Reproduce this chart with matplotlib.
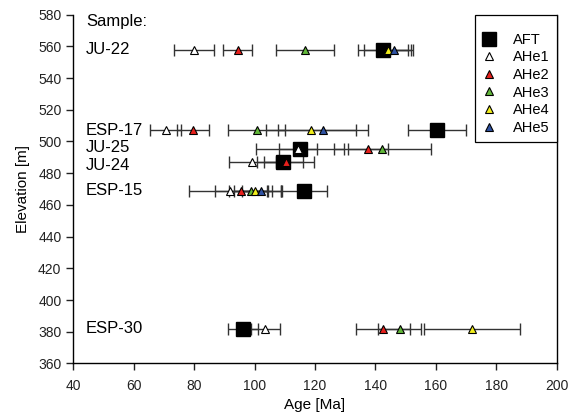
import matplotlib
matplotlib.use('Agg')
import numpy as np
import matplotlib.pyplot as plt
from matplotlib.lines import Line2D

nan = np.nan

# sample names and elevations [m]
samples = ['JU-22', 'ESP-17', 'JU-25', 'JU-24', 'ESP-15', 'ESP-30']
elev = [558, 507, 495, 487, 469, 382]
label_y = [558, 507, 496, 485, 469, 382]

# ages [Ma] and errors, one row per sample
aft_age = [142.6, 160.5, 115.1, 109.5, 116.5, 96.3]
aft_err = [8.2, 9.6, 14.5, 6.5, 7.4, 5.0]
ahe1_age = [80.0, 70.6, 114.5, 99.3, 92.0, 103.5]
ahe1_err = [6.6, 5.2, 6.3, 7.7, 13.8, 4.8]
ahe2_age = [94.4, 79.7, 137.5, 110.3, 95.5, 142.5]
ahe2_err = [4.9, 5.3, 6.6, 9.5, 8.6, 9.0]
ahe3_age = [116.7, 100.7, 142.3, nan, 98.8, 148.0]
ahe3_err = [9.6, 9.4, 16.1, nan, 5.5, 7.0]
ahe4_age = [144.3, 118.7, nan, nan, 100.0, 172.0]
ahe4_err = [8.0, 14.9, nan, nan, 8.6, 16.0]
ahe5_age = [146.2, 122.6, nan, nan, 102.2, nan]
ahe5_err = [5.6, 14.9, nan, nan, 6.5, nan]

plt.rcParams['font.family'] = ['Liberation Sans', 'DejaVu Sans']

fig = plt.figure(figsize=(5.68, 4.15), dpi=100)
ax = fig.add_axes([0.129, 0.1243, 0.851, 0.8403])

ebar_kw = dict(fmt='none', ecolor='#333333', elinewidth=1.0, capsize=4.5,
               capthick=1.0, zorder=2)

ahe = [
    ('AHe1', ahe1_age, ahe1_err, 'white'),
    ('AHe2', ahe2_age, ahe2_err, '#e8201c'),
    ('AHe3', ahe3_age, ahe3_err, '#62b83a'),
    ('AHe4', ahe4_age, ahe4_err, '#f2ee1c'),
    ('AHe5', ahe5_age, ahe5_err, '#2f52a2'),
]

ax.errorbar(aft_age, elev, xerr=aft_err, **ebar_kw)
for name, age, err, col in ahe:
    ax.errorbar(age, elev, xerr=err, **ebar_kw)

ax.plot(aft_age, elev, ls='none', marker='s', ms=10, mfc='black',
        mec='black', zorder=3)
for name, age, err, col in ahe:
    ax.plot(age, elev, ls='none', marker='^', ms=6, mfc=col,
            mec='black', mew=0.8, zorder=4)

for s, y in zip(samples, label_y):
    ax.text(44.2, y, s, fontsize=12, va='center', ha='left')
ax.text(44.2, 575.5, 'Sample:', fontsize=12, va='center', ha='left')

handles = [Line2D([], [], ls='none', marker='s', ms=10, mfc='black',
                  mec='black', label='AFT')]
for name, age, err, col in ahe:
    handles.append(Line2D([], [], ls='none', marker='^', ms=6, mfc=col,
                          mec='black', mew=0.8, label=name))
# blank title only to push the entries down inside the box
leg = ax.legend(handles=handles, loc='upper right', bbox_to_anchor=(1, 1),
                borderaxespad=0, fancybox=False, edgecolor='black',
                fontsize=10.5, handlelength=1.0, handletextpad=1.1,
                labelspacing=0.25, borderpad=0.5, framealpha=1,
                title=' ', title_fontsize=5)
leg.get_frame().set_linewidth(0.9)

ax.set_xlim(40, 200)
ax.set_ylim(360, 580)
ax.set_xticks(np.arange(40, 201, 20))
ax.set_yticks(np.arange(360, 581, 20))
ax.set_xlabel('Age [Ma]', fontsize=11, labelpad=4)
ax.set_ylabel('Elevation [m]', fontsize=11, labelpad=6)
ax.tick_params(direction='out', length=5, width=1, labelsize=10,
               colors='#222222')
ax.tick_params(axis='x', pad=6)
ax.spines['top'].set_visible(False)
for sp in ['left', 'bottom', 'right']:
    ax.spines[sp].set_linewidth(1.0)

fig.savefig('out.png', dpi=100)
